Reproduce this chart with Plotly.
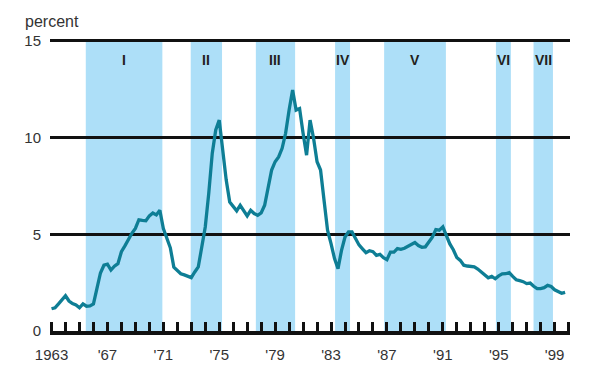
import pandas as pd
import plotly.graph_objects as go

# Quarterly series, 1963Q1 - 1999Q4 (percent)
quarters = pd.period_range("1963Q1", "1999Q4", freq="Q")
values = [
    1.15, 1.2, 1.4, 1.62,      # 1963
    1.82, 1.55, 1.42, 1.35,    # 1964
    1.2, 1.4, 1.28, 1.3,       # 1965
    1.4, 2.2, 3.0, 3.4,        # 1966
    3.45, 3.15, 3.35, 3.48,    # 1967
    4.1, 4.4, 4.75, 5.05,      # 1968
    5.3, 5.75, 5.72, 5.7,      # 1969
    5.95, 6.1, 6.0, 6.24,      # 1970
    5.3, 4.75, 4.3, 3.3,       # 1971
    3.15, 2.96, 2.9, 2.82,     # 1972
    2.76, 3.05, 3.31, 4.34,    # 1973
    5.38, 7.11, 9.18, 10.39,   # 1974
    10.9, 9.35, 7.8, 6.67,     # 1975
    6.41, 6.21, 6.5, 6.21,     # 1976
    5.95, 6.24, 6.07, 5.98,    # 1977
    6.1, 6.5, 7.45, 8.32,      # 1978
    8.75, 9.0, 9.44, 10.22,    # 1979
    11.42, 12.46, 11.42, 11.5, # 1980
    10.22, 9.09, 10.9, 9.96,   # 1981
    8.75, 8.32, 6.76, 5.21,    # 1982
    4.52, 3.74, 3.22, 4.17,    # 1983
    4.86, 5.12, 5.12, 4.75,    # 1984
    4.45, 4.25, 4.05, 4.15,    # 1985
    4.1, 3.91, 3.96, 3.79,     # 1986
    3.69, 4.08, 4.08, 4.26,    # 1987
    4.22, 4.28, 4.38, 4.47,    # 1988
    4.57, 4.42, 4.33, 4.35,    # 1989
    4.6, 4.85, 5.24, 5.21,     # 1990
    5.38, 4.9, 4.5, 4.2,       # 1991
    3.8, 3.65, 3.4, 3.36,      # 1992
    3.34, 3.31, 3.2, 3.05,     # 1993
    2.9, 2.75, 2.82, 2.7,      # 1994
    2.85, 2.95, 2.96, 3.02,    # 1995
    2.82, 2.65, 2.6, 2.55,     # 1996
    2.45, 2.48, 2.31, 2.19,    # 1997
    2.19, 2.24, 2.36, 2.3,     # 1998
    2.13, 2.05, 1.95, 2.0,     # 1999
]

# Shaded episodes
band_labels = ["I", "II", "III", "IV", "V", "VI", "VII"]
band_starts = [1965.45, 1972.96, 1977.62, 1983.29, 1986.8, 1994.8, 1997.49]
band_ends = [1970.93, 1975.2, 1980.43, 1984.36, 1991.22, 1995.87, 1998.88]
band_top = 15

# Axis ticks
tick_years = list(range(1963, 2001))
label_years = [1963, 1967, 1971, 1975, 1979, 1983, 1987, 1991, 1995, 1999]
label_texts = ["1963", "'67", "'71", "'75", "'79", "'83", "'87", "'91", "'95", "'99"]
y_ticks = [0, 5, 10, 15]

x = [q.year + (q.quarter - 1) / 4 for q in quarters]
lab = dict(zip(label_years, label_texts))
tick_text = [lab.get(y, "") for y in tick_years]

FONT = "Liberation Sans, Arial, sans-serif"
fig = go.Figure()
fig.add_trace(go.Scatter(x=x, y=values, mode="lines",
                         line=dict(color="#0e7e95", width=3.3),
                         hoverinfo="skip", showlegend=False))

for lbl, s, e in zip(band_labels, band_starts, band_ends):
    fig.add_shape(type="rect", xref="x", yref="y", x0=s, x1=e, y0=0, y1=band_top,
                  fillcolor="#addff8", line=dict(width=0), layer="below")
    fig.add_annotation(x=(s + e) / 2, y=14.0, xref="x", yref="y", text=lbl,
                       showarrow=False,
                       font=dict(family=FONT, size=14, color="#231f20", weight="bold"))

fig.add_annotation(xref="paper", yref="paper", x=-0.052, y=1.044,
                   xanchor="left", yanchor="middle", text="percent",
                   showarrow=False, font=dict(family=FONT, size=16, color="#333333"))

fig.update_layout(
    width=600, height=370,
    margin=dict(l=50, r=30, t=35, b=39, autoexpand=False),
    paper_bgcolor="white", plot_bgcolor="white",
    font=dict(family=FONT, size=15, color="#333333"),
    xaxis=dict(range=[1962.89, 2000.1], tickvals=tick_years, ticktext=tick_text,
               ticks="inside", ticklen=9, tickwidth=2.5, tickcolor="#111111",
               showline=True, linewidth=4, linecolor="#111111",
               showgrid=False, zeroline=False, fixedrange=True,
               automargin=False, ticklabelstandoff=7,
               tickfont=dict(size=15, color="#333333")),
    yaxis=dict(range=[0, 15.3], tickvals=y_ticks, ticks="",
               showgrid=True, gridcolor="#111111", gridwidth=2.5,
               zeroline=False, showline=False, fixedrange=True,
               automargin=False, ticklabelstandoff=8,
               tickfont=dict(size=15, color="#333333")),
)

fig.write_html("out.html", config={"displayModeBar": False},
               post_script="document.body.style.margin='0';")
